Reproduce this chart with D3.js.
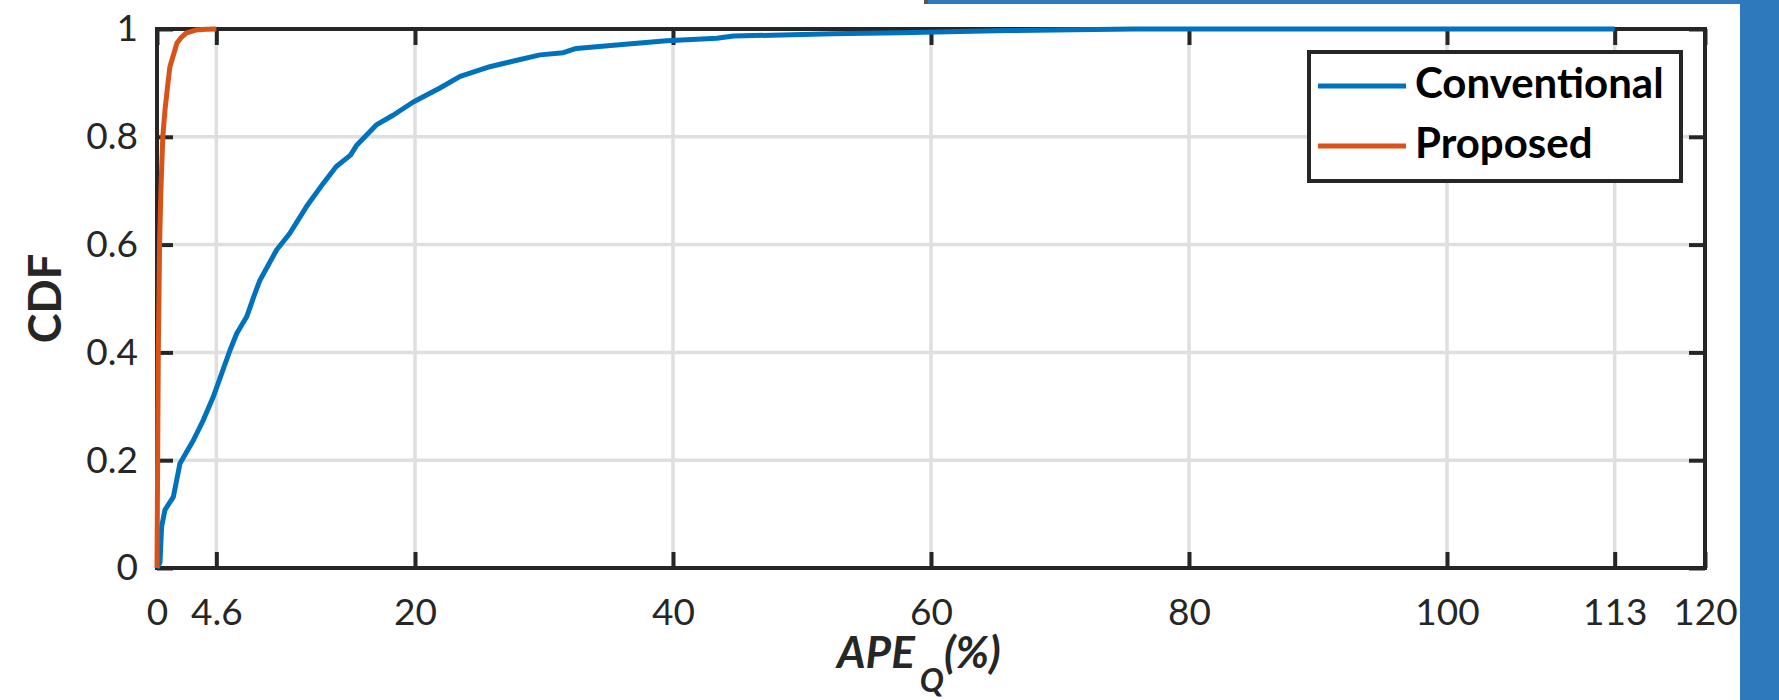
<!DOCTYPE html>
<html>
<head>
<meta charset="utf-8">
<script src="https://cdn.jsdelivr.net/npm/d3@7"></script>
<style>
  body { margin: 0; background: #fff; }
  svg { display: block; }
  .tick text { font-family: Lato, "Open Sans", sans-serif; fill: #262626; }
</style>
</head>
<body>
<div id="chart"></div>
<script>
// CDF of the absolute percentage error
var xTicks = [0, 4.6, 20, 40, 60, 80, 100, 113, 120];
var yTicks = [0, 0.2, 0.4, 0.6, 0.8, 1];

var conventionalApe = [0, 0.23, 0.36, 0.62, 1.27, 1.78, 2.82, 3.6, 4.37, 5.66, 6.18, 6.95, 7.6, 7.98,
  9.27, 10.3, 11.6, 12.9, 13.9, 15.0, 15.5, 17.0, 18.3, 19.9, 21.9, 23.5, 25.8, 27.9, 29.7, 31.5,
  32.5, 35.4, 39.5, 43.4, 44.7, 52.4, 57.6, 66, 75.7, 113];
var conventionalCdf = [0, 0.01, 0.077, 0.108, 0.132, 0.194, 0.237, 0.275, 0.318, 0.404, 0.435, 0.466, 0.51, 0.534,
  0.59, 0.621, 0.671, 0.714, 0.745, 0.766, 0.785, 0.822, 0.84, 0.865, 0.89, 0.912, 0.93, 0.942, 0.952, 0.956,
  0.964, 0.97, 0.978, 0.983, 0.987, 0.991, 0.993, 0.997, 1.0, 1.0];

var proposedApe = [0, 0.05, 0.1, 0.2, 0.3, 0.45, 0.62, 0.85, 1.0, 1.25, 1.55, 1.9, 2.3, 3.0, 3.8, 4.6];
var proposedCdf = [0, 0.2, 0.4, 0.6, 0.7, 0.8, 0.85, 0.9, 0.93, 0.95, 0.974, 0.985, 0.993, 0.998, 0.9995, 1.0];

var seriesNames = ["Conventional", "Proposed"];
var colors = ["#0072BD", "#D95319"];

var W = 1779, H = 700;
// plot box (window.top is read-only, so no plain "top" here)
var pLeft = 157, pTop = 29, pRight = 1705, pBottom = 568;

var svg = d3.select("#chart").append("svg")
  .attr("width", W)
  .attr("height", H);

svg.append("rect").attr("width", W).attr("height", H).attr("fill", "#fff");

var x = d3.scaleLinear().domain([0, 120]).range([pLeft, pRight]);
var y = d3.scaleLinear().domain([0, 1]).range([pBottom, pTop]);

// grid
var grid = svg.append("g").attr("stroke", "#dfdfdf").attr("stroke-width", 3.5);
grid.selectAll(".gx")
  .data(xTicks.filter(function(d){ return d > 0 && d < 120; }))
  .enter().append("line")
  .attr("x1", function(d){ return x(d); })
  .attr("x2", function(d){ return x(d); })
  .attr("y1", pTop).attr("y2", pBottom);
grid.selectAll(".gy")
  .data(yTicks.filter(function(d){ return d > 0 && d < 1; }))
  .enter().append("line")
  .attr("y1", function(d){ return y(d); })
  .attr("y2", function(d){ return y(d); })
  .attr("x1", pLeft).attr("x2", pRight);

// axes, ticks pointing inward on all four sides
function styleAxis(g) {
  g.select(".domain").remove();
  g.selectAll(".tick line").attr("stroke", "#262626").attr("stroke-width", 4);
}

svg.append("g")
  .attr("transform", "translate(0," + pBottom + ")")
  .call(d3.axisBottom(x).tickValues(xTicks).tickFormat(function(d){ return d; })
    .tickSizeInner(-16).tickSizeOuter(0).tickPadding(31))
  .call(styleAxis)
  .selectAll("text").attr("font-size", 37);

svg.append("g")
  .attr("transform", "translate(0," + pTop + ")")
  .call(d3.axisTop(x).tickValues(xTicks).tickFormat("").tickSizeInner(-16).tickSizeOuter(0))
  .call(styleAxis);

svg.append("g")
  .attr("transform", "translate(" + pLeft + ",0)")
  .call(d3.axisLeft(y).tickValues(yTicks).tickFormat(function(d){ return d; })
    .tickSizeInner(-16).tickSizeOuter(0).tickPadding(19))
  .call(styleAxis)
  .selectAll("text").attr("font-size", 37);

svg.append("g")
  .attr("transform", "translate(" + pRight + ",0)")
  .call(d3.axisRight(y).tickValues(yTicks).tickFormat("").tickSizeInner(-16).tickSizeOuter(0))
  .call(styleAxis);

// box
svg.append("rect")
  .attr("x", pLeft).attr("y", pTop)
  .attr("width", pRight - pLeft).attr("height", pBottom - pTop)
  .attr("fill", "none")
  .attr("stroke", "#262626")
  .attr("stroke-width", 4);

// data lines
var line = d3.line()
  .x(function(d){ return x(d[0]); })
  .y(function(d){ return y(d[1]); });

var series = [
  d3.zip(conventionalApe, conventionalCdf),
  d3.zip(proposedApe, proposedCdf)
];

svg.selectAll(".series")
  .data(series)
  .enter().append("path")
  .attr("d", line)
  .attr("fill", "none")
  .attr("stroke", function(d, i){ return colors[i]; })
  .attr("stroke-width", 5)
  .attr("stroke-linejoin", "round");

// legend
var legend = svg.append("g");
legend.append("rect")
  .attr("x", 1309).attr("y", 52)
  .attr("width", 372).attr("height", 129)
  .attr("fill", "#fff")
  .attr("stroke", "#262626")
  .attr("stroke-width", 4);

seriesNames.forEach(function(name, i){
  var ly = 86 + i * 60;
  legend.append("line")
    .attr("x1", 1318).attr("x2", 1406)
    .attr("y1", ly).attr("y2", ly)
    .attr("stroke", colors[i])
    .attr("stroke-width", 5);
  legend.append("text")
    .attr("x", 1415).attr("y", ly + 12)
    .attr("font-family", "Lato, sans-serif")
    .attr("font-weight", "bold")
    .attr("font-size", 42)
    .attr("fill", "#000")
    .text(name);
});

// axis labels
svg.append("text")
  .attr("transform", "translate(61," + (pTop + pBottom) / 2 + ") rotate(-90)")
  .attr("text-anchor", "middle")
  .attr("font-family", "Lato, sans-serif")
  .attr("font-weight", "bold")
  .attr("font-size", 45)
  .attr("fill", "#262626")
  .text("CDF");

var xl = svg.append("text")
  .attr("x", 837).attr("y", 668)
  .attr("font-family", "Lato, sans-serif")
  .attr("font-weight", "bold")
  .attr("font-style", "italic")
  .attr("font-size", 44)
  .attr("fill", "#262626");
xl.append("tspan").text("APE");
xl.append("tspan").attr("dy", 24).attr("dx", 5).attr("font-size", 32).text("Q");
xl.append("tspan").attr("dy", -24).text("(%)");

// screenshot frame bits on the top / right edge
svg.append("rect").attr("x", 924).attr("y", 0).attr("width", 4).attr("height", 4).attr("fill", "#555");
svg.append("rect").attr("x", 928).attr("y", 0).attr("width", W - 928).attr("height", 4).attr("fill", "#2E78BC");
svg.append("rect").attr("x", 1740).attr("y", 0).attr("width", W - 1740).attr("height", H).attr("fill", "#2E78BC");
</script>
</body>
</html>
